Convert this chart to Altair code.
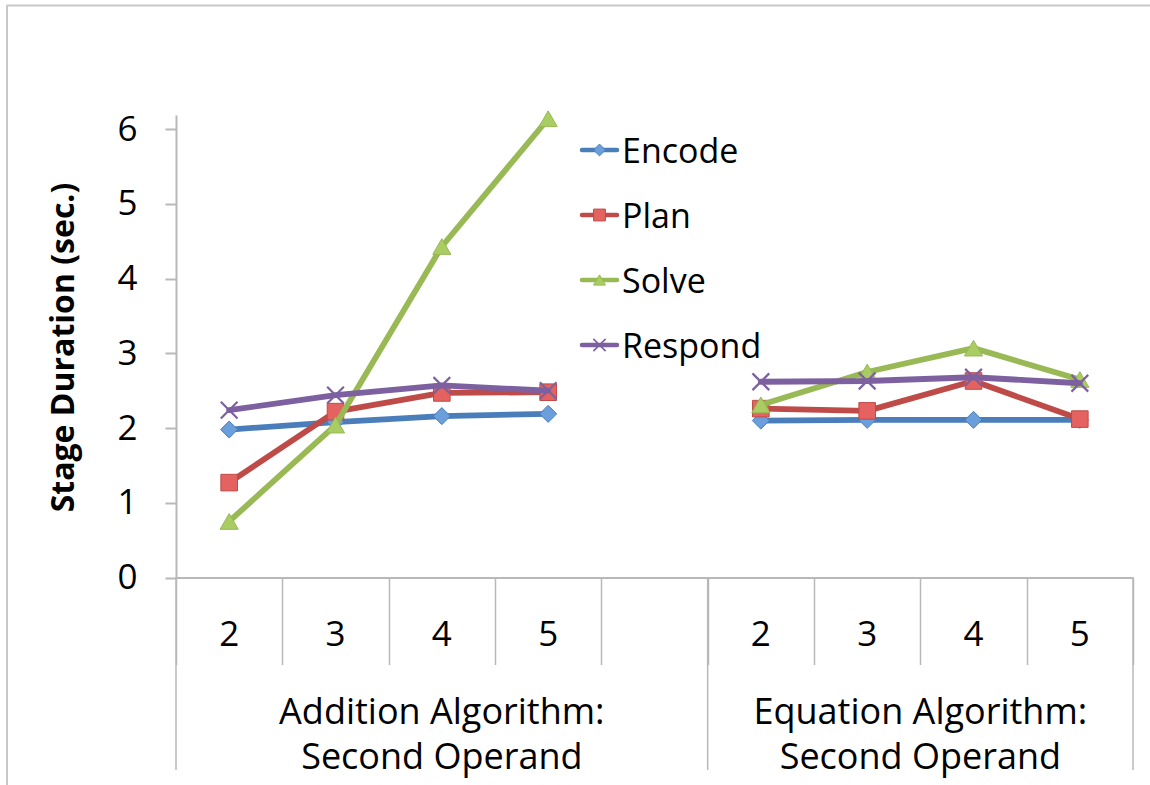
import altair as alt
import pandas as pd

# ---- data -------------------------------------------------------------
series = ["Encode", "Plan", "Solve", "Respond"]
operands = ["2", "3", "4", "5"]
groups = ["Addition", "Equation"]
group_titles = ["Addition Algorithm:\nSecond Operand", "Equation Algorithm:\nSecond Operand"]

# category slots along x: four operands, one empty slot, four operands
group_slots = {"Addition": [0, 1, 2, 3], "Equation": [5, 6, 7, 8]}
slot_edges = list(range(10))
group_edges = [0, 5, 9]
group_centers = [2.5, 7.0]

addition = {
    "Encode": [1.98, 2.08, 2.16, 2.19],
    "Plan": [1.27, 2.22, 2.47, 2.48],
    "Solve": [0.75, 2.04, 4.43, 6.14],
    "Respond": [2.24, 2.44, 2.57, 2.50],
}
equation = {
    "Encode": [2.10, 2.11, 2.11, 2.11],
    "Plan": [2.26, 2.23, 2.63, 2.12],
    "Solve": [2.31, 2.75, 3.07, 2.65],
    "Respond": [2.62, 2.63, 2.68, 2.60],
}
y_ticks = [0, 1, 2, 3, 4, 5, 6]

# ---- styling ----------------------------------------------------------
FONT = "Open Sans"
GRAY = "#b8b8b8"
line_color = {"Encode": "#4a7ebb", "Plan": "#be4b48", "Solve": "#98b954", "Respond": "#7d60a0"}
marker_fill = {"Encode": "#6a9fdc", "Plan": "#e4625f", "Solve": "#a9cd62", "Respond": None}
marker_shape = {
    "Encode": "diamond",
    "Plan": "square",
    "Solve": "triangle-up",
    "Respond": "M-1,-1L1,1M-1,1L1,-1",
}
marker_size = {"Encode": 290, "Plan": 275, "Solve": 330, "Respond": 280}

rows = []
for g, table in (("Addition", addition), ("Equation", equation)):
    for s in series:
        for slot, op, v in zip(group_slots[g], operands, table[s]):
            rows.append({"series": s, "group": g, "x": slot + 0.5, "operand": op, "value": v})
df = pd.DataFrame(rows)

op_rows = [
    {"x": slot + 0.5, "label": op}
    for g in groups
    for slot, op in zip(group_slots[g], operands)
]
op_df = pd.DataFrame(op_rows)
grp_df = pd.DataFrame({"x": group_centers, "label": group_titles})
edge_df = pd.DataFrame({"x": group_edges})
frame_df = pd.DataFrame({"k": [0]})

W, H = 957, 462.5

x_scale = alt.Scale(domain=[0, 9], nice=False, zero=False)
y_scale = alt.Scale(domain=[0, 6.19], nice=False, zero=True)

x_axis = alt.Axis(
    values=slot_edges, labels=False, title=None, grid=False,
    tickSize=87, tickColor=GRAY, tickWidth=1.5,
    domainColor=GRAY, domainWidth=2,
)
y_axis = alt.Axis(
    values=y_ticks, grid=False, format="d",
    tickSize=11, tickColor=GRAY, tickWidth=2,
    domainColor=GRAY, domainWidth=2,
    labelFont=FONT, labelFontSize=35, labelColor="black", labelPadding=28,
    title="Stage Duration (sec.)", titleFont=FONT, titleFontSize=32,
    titleFontWeight="bold", titleColor="black",
    titleAngle=270, titleAlign="center", titleBaseline="middle",
    titleX=-113, titleY=232,
)

X = alt.X("x:Q", scale=x_scale, axis=x_axis)
Y = alt.Y("value:Q", scale=y_scale, axis=y_axis)

layers = []

# chart frame (top and left edges)
layers.append(
    alt.Chart(frame_df).mark_rule(color="#c8c8c8", strokeWidth=2).encode(
        x=alt.value(-169), x2=alt.value(990), y=alt.value(-109.5)
    )
)
layers.append(
    alt.Chart(frame_df).mark_rule(color="#c8c8c8", strokeWidth=2).encode(
        x=alt.value(-169), y=alt.value(-110), y2=alt.value(680)
    )
)

# long separators between the two groups
layers.append(
    alt.Chart(edge_df).mark_rule(color=GRAY, strokeWidth=1.5).encode(
        x=X, y=alt.value(H), y2=alt.value(655)
    )
)

# operand labels and group labels
layers.append(
    alt.Chart(op_df).mark_text(font=FONT, fontSize=35, color="black",
                               align="center", baseline="alphabetic").encode(
        x=X, y=alt.value(531), text="label:N"
    )
)
layers.append(
    alt.Chart(grp_df).mark_text(font=FONT, fontSize=36, color="black",
                                align="center", baseline="alphabetic",
                                lineBreak="\n", lineHeight=45).encode(
        x=X, y=alt.value(609), text="label:N"
    )
)

# series: line then markers, drawn one series at a time
for s in series:
    sdf = df[df["series"] == s]
    layers.append(
        alt.Chart(sdf).mark_line(color=line_color[s], strokeWidth=5.8,
                                 strokeJoin="round", strokeCap="round").encode(
            x=X, y=Y, detail="group:N", order="x:Q"
        )
    )
    if marker_fill[s] is None:
        pts = alt.Chart(sdf).mark_point(shape=marker_shape[s], filled=False,
                                        stroke=line_color[s], strokeWidth=2.2,
                                        size=marker_size[s], opacity=1)
    else:
        pts = alt.Chart(sdf).mark_point(shape=marker_shape[s], filled=True,
                                        fill=marker_fill[s], stroke=line_color[s],
                                        strokeWidth=1, size=marker_size[s], opacity=1)
    layers.append(pts.encode(x=X, y=Y))

# legend drawn beside the Addition group
legend_rows = [35, 100, 165, 230]
for s, ly in zip(series, legend_rows):
    one = pd.DataFrame({"series": [s]})
    layers.append(
        alt.Chart(one).mark_rule(color=line_color[s], strokeWidth=4.5, strokeCap="round").encode(
            x=alt.value(406), x2=alt.value(441), y=alt.value(ly)
        )
    )
    if marker_fill[s] is None:
        lp = alt.Chart(one).mark_point(shape=marker_shape[s], filled=False,
                                       stroke=line_color[s], strokeWidth=1.6,
                                       size=150, opacity=1)
    else:
        lp = alt.Chart(one).mark_point(shape=marker_shape[s], filled=True,
                                       fill=marker_fill[s], stroke=line_color[s],
                                       strokeWidth=1, size=140, opacity=1)
    layers.append(lp.encode(x=alt.value(423.5), y=alt.value(ly)))
    layers.append(
        alt.Chart(one).mark_text(font=FONT, fontSize=34, color="black",
                                 align="left", baseline="alphabetic").encode(
            x=alt.value(446), y=alt.value(ly + 13), text="series:N"
        )
    )

chart = (
    alt.layer(*layers)
    .properties(
        width=W, height=H,
        autosize=alt.AutoSizeParams(type="none"),
        padding={"left": 176, "top": 115, "right": 17, "bottom": 207.5},
        background="white",
    )
    .configure_view(stroke=None)
)

chart.save("out.html", embed_options={"renderer": "svg", "actions": False})
